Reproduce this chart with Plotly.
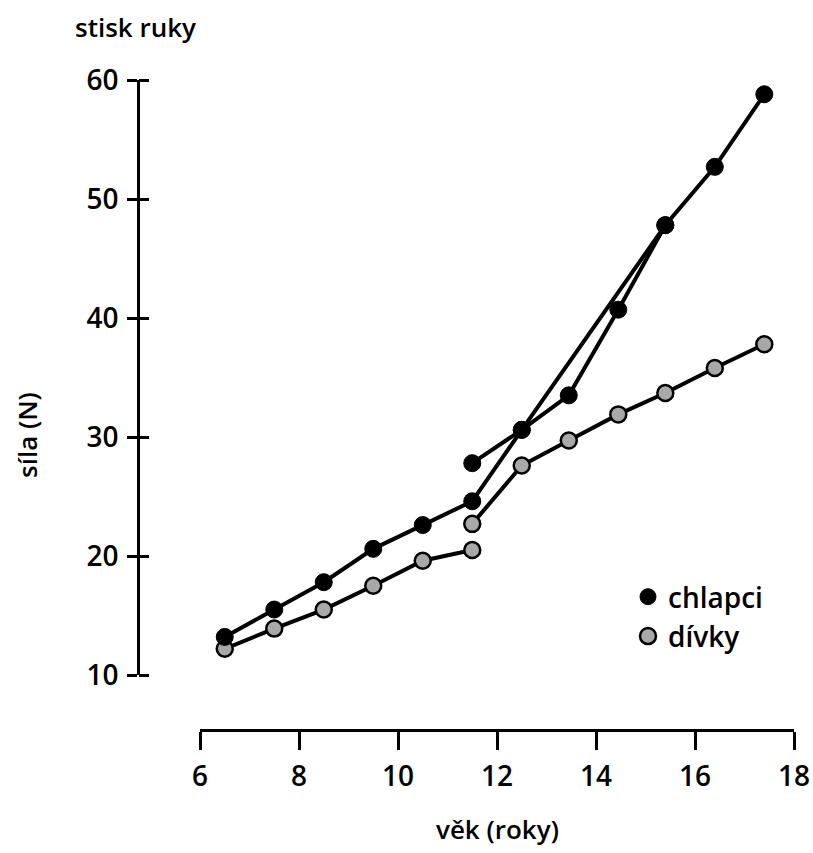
import plotly.graph_objects as go

# ---- data ----
boys_age_a = [6.5, 7.5, 8.5, 9.5, 10.5, 11.5, 12.5, 15.4, 16.4, 17.4]
boys_force_a = [13.2, 15.5, 17.8, 20.6, 22.6, 24.6, 30.6, 47.8, 52.7, 58.8]
boys_age_b = [11.5, 12.5, 13.45, 14.45, 15.4]
boys_force_b = [27.8, 30.6, 33.5, 40.7, 47.8]

girls_age_a = [6.5, 7.5, 8.5, 9.5, 10.5, 11.5]
girls_force_a = [12.2, 13.9, 15.5, 17.5, 19.6, 20.5]
girls_age_b = [11.5, 12.5, 13.45, 14.45, 15.4, 16.4, 17.4]
girls_force_b = [22.7, 27.6, 29.7, 31.9, 33.7, 35.8, 37.8]

x_ticks = [6, 8, 10, 12, 14, 16, 18]
y_ticks = [10, 20, 30, 40, 50, 60]

label_boys = "chlapci"
label_girls = "dívky"
title_top = "stisk ruky"
title_y = "síla (N)"
title_x = "věk (roky)"

FONT = "Open Sans"
W, H = 813, 853
L = 138
T = 80
R = W - 794
B = H - 730
plot_w = W - L - R
plot_h = H - T - B
px_per_x = 49.5
px_per_y = 11.9
x_min = 18 - plot_w / px_per_x
y_min = 60 - plot_h / px_per_y


def px(xr):
    return (xr - L) / plot_w


def py(yr):
    return (H - B - yr) / plot_h


fig = go.Figure()

line_style = dict(color="black", width=4)
for xs, ys in [(girls_age_a, girls_force_a), (girls_age_b, girls_force_b),
               (boys_age_a, boys_force_a), (boys_age_b, boys_force_b)]:
    fig.add_trace(go.Scatter(x=xs, y=ys, mode="lines", line=line_style,
                             showlegend=False, hoverinfo="skip"))

fig.add_trace(go.Scatter(
    x=girls_age_a + girls_age_b, y=girls_force_a + girls_force_b,
    mode="markers", name=label_girls, legendrank=2,
    marker=dict(size=16, color="#a8a8a8", line=dict(color="black", width=2.5))))
fig.add_trace(go.Scatter(
    x=boys_age_a + boys_age_b, y=boys_force_a + boys_force_b,
    mode="markers", name=label_boys, legendrank=1,
    marker=dict(size=17, color="black", line=dict(color="black", width=1))))

# decoration axes (empty traces so the subplots exist)
fig.add_trace(go.Scatter(x=[], y=[], xaxis="x2", yaxis="y2", showlegend=False, hoverinfo="skip"))
fig.add_trace(go.Scatter(x=[], y=[], xaxis="x2", yaxis="y3", showlegend=False, hoverinfo="skip"))

x_dom0 = (200 - L) / plot_w
y_dom0 = (H - B - 675) / plot_h

tickfont = dict(family=FONT, size=28, color="black", weight=600)
titlefont = dict(family=FONT, size=26, color="black", weight=600)

fig.update_layout(
    width=W, height=H,
    margin=dict(l=L, r=R, t=T, b=B, autoexpand=False),
    paper_bgcolor="white", plot_bgcolor="rgba(0,0,0,0)",
    font=dict(family=FONT, color="black"),
    xaxis=dict(range=[x_min, 18], visible=False, domain=[0, 1]),
    yaxis=dict(range=[y_min, 60], visible=False, domain=[0, 1]),
    xaxis2=dict(range=[6, 18], domain=[x_dom0, 1], anchor="free", position=0,
                showline=True, linecolor="black", linewidth=2.5,
                ticks="outside", ticklen=18, tickwidth=2.5, tickcolor="black",
                tickvals=x_ticks, tickfont=tickfont, ticklabelstandoff=3,
                ticklabeloverflow="allow",
                showgrid=False, zeroline=False, automargin=False),
    yaxis2=dict(range=[10, 60], domain=[y_dom0, 1], anchor="free", position=0,
                showline=True, linecolor="black", linewidth=2.5,
                ticks="outside", ticklen=10, tickwidth=2.5, tickcolor="black",
                tickvals=y_ticks, tickfont=tickfont, ticklabelstandoff=3,
                ticklabeloverflow="allow",
                showgrid=False, zeroline=False, automargin=False),
    yaxis3=dict(range=[10, 60], domain=[y_dom0, 1], anchor="free", position=0,
                side="right", showline=False, ticks="outside", ticklen=10,
                tickwidth=2.5, tickcolor="black", tickvals=y_ticks,
                showticklabels=False,
                showgrid=False, zeroline=False, automargin=False),
    legend=dict(x=px(628), y=py(572),
                xanchor="left", yanchor="top",
                font=dict(family=FONT, size=28, color="black", weight=600),
                bgcolor="rgba(0,0,0,0)", itemwidth=30, tracegroupgap=0),
    annotations=[
        dict(text=title_top, xref="paper", yref="paper",
             x=px(73), y=py(27),
             xanchor="left", yanchor="middle", showarrow=False, font=titlefont),
        dict(text=title_y, xref="paper", yref="paper",
             x=px(27), y=py(435),
             xanchor="center", yanchor="middle", textangle=-90, showarrow=False,
             font=titlefont),
        dict(text=title_x, xref="paper", yref="paper",
             x=px(497), y=py(829),
             xanchor="center", yanchor="middle", showarrow=False, font=titlefont),
    ],
)

fig.write_html(
    "out.html",
    config={"displayModeBar": False},
    post_script="document.body.style.margin='0';document.body.style.overflow='hidden';",
)
